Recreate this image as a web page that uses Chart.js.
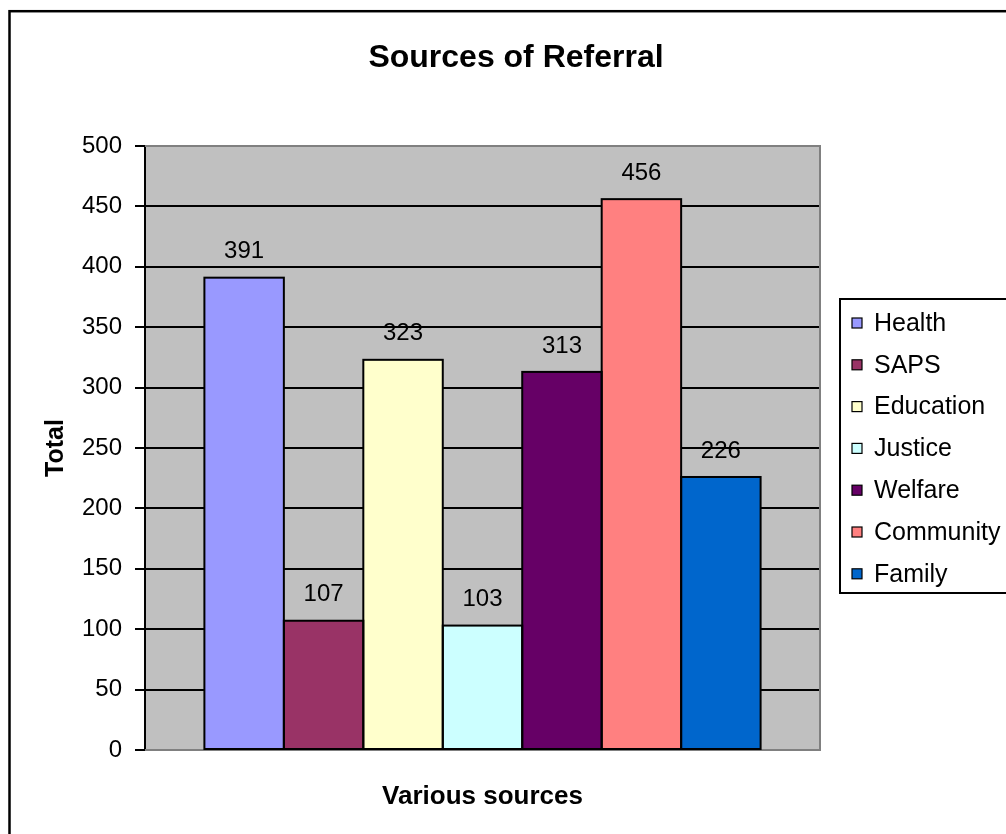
<!DOCTYPE html>
<html>
<head>
<meta charset="utf-8">
<title>Sources of Referral</title>
<script src="https://cdn.jsdelivr.net/npm/chart.js@4.4.1/dist/chart.umd.min.js"></script>
<style>
  html, body { margin: 0; padding: 0; background: #ffffff; }
  #wrap { width: 1006px; height: 834px; position: relative; }
  canvas { display: block; }
</style>
</head>
<body>
<div id="wrap"><canvas id="c" width="1006" height="834"></canvas></div>
<script>
// Referral sources and their totals
const categories = ['Various sources'];
const sourceNames = ['Health', 'SAPS', 'Education', 'Justice', 'Welfare', 'Community', 'Family'];
const totals = [391, 107, 323, 103, 313, 456, 226];
const sourceColors = ['#9999FF', '#993366', '#FFFFCC', '#CCFFFF', '#660066', '#FF8080', '#0066CC'];
const yTicks = [0, 50, 100, 150, 200, 250, 300, 350, 400, 450, 500];

const FONT = '"Liberation Sans", Arial, Helvetica, sans-serif';

const datasets = sourceNames.map((name, i) => ({
  label: name,
  data: [totals[i]],
  backgroundColor: sourceColors[i],
  borderWidth: 0,
  categoryPercentage: 0.824,
  barPercentage: 1.0
}));

// Grey plot background with a darker frame on the top, right and bottom
const plotFrame = {
  id: 'plotFrame',
  beforeDraw(chart) {
    const { ctx, chartArea: a } = chart;
    ctx.save();
    ctx.fillStyle = '#ffffff';
    ctx.fillRect(0, 0, chart.width, chart.height);
    ctx.fillStyle = '#C0C0C0';
    ctx.fillRect(a.left, a.top, a.right - a.left, a.bottom - a.top);
    ctx.restore();
  },
  beforeDatasetsDraw(chart) {
    const { ctx, chartArea: a } = chart;
    ctx.save();
    ctx.strokeStyle = '#808080';
    ctx.lineWidth = 2;
    ctx.beginPath();
    ctx.moveTo(a.left, a.top);
    ctx.lineTo(a.right, a.top);
    ctx.lineTo(a.right, a.bottom);
    ctx.lineTo(a.left, a.bottom);
    ctx.stroke();
    ctx.restore();
  }
};

// Bar outlines, value labels above each bar, chart title, legend box and outer frame
const decorations = {
  id: 'decorations',
  afterDatasetsDraw(chart) {
    const { ctx } = chart;
    ctx.save();
    // outlines centred on the bar edges so neighbouring bars share one line
    ctx.strokeStyle = '#000000';
    ctx.lineWidth = 2;
    chart.data.datasets.forEach((ds, i) => {
      chart.getDatasetMeta(i).data.forEach((bar) => {
        const half = bar.width / 2;
        ctx.strokeRect(bar.x - half, bar.y, bar.width, bar.base - bar.y);
      });
    });
    ctx.font = '24px ' + FONT;
    ctx.fillStyle = '#000000';
    ctx.textAlign = 'center';
    ctx.textBaseline = 'middle';
    chart.data.datasets.forEach((ds, i) => {
      const meta = chart.getDatasetMeta(i);
      meta.data.forEach((bar, j) => {
        ctx.fillText(String(ds.data[j]), bar.x, bar.y - 26);
      });
    });
    ctx.restore();
  },
  afterDraw(chart) {
    const { ctx } = chart;
    ctx.save();
    // title
    ctx.font = 'bold 32px ' + FONT;
    ctx.fillStyle = '#000000';
    ctx.textAlign = 'center';
    ctx.textBaseline = 'middle';
    ctx.fillText('Sources of Referral', 516, 58);

    // legend
    const lx = 840, ly = 299, lh = 294;
    ctx.fillStyle = '#ffffff';
    ctx.fillRect(lx, ly, 200, lh);
    ctx.strokeStyle = '#000000';
    ctx.lineWidth = 2;
    ctx.strokeRect(lx, ly, 200, lh);
    ctx.font = '25px ' + FONT;
    ctx.textAlign = 'left';
    chart.data.datasets.forEach((ds, i) => {
      const cy = 323 + i * 41.8;
      ctx.fillStyle = ds.backgroundColor;
      ctx.fillRect(852, cy - 5, 10, 10);
      ctx.lineWidth = 1.2;
      ctx.strokeStyle = '#000000';
      ctx.strokeRect(852, cy - 5, 10, 10);
      ctx.fillStyle = '#000000';
      ctx.fillText(ds.label, 874, cy + 1);
    });

    // outer frame
    ctx.lineWidth = 2.5;
    ctx.strokeStyle = '#000000';
    ctx.strokeRect(9.5, 11.2, 1100, 900);
    ctx.restore();
  }
};

new Chart(document.getElementById('c'), {
  type: 'bar',
  data: { labels: categories, datasets },
  plugins: [plotFrame, decorations],
  options: {
    responsive: false,
    animation: false,
    layout: { padding: { left: 0, top: 146, right: 186, bottom: 0 } },
    plugins: {
      legend: { display: false },
      title: { display: false },
      tooltip: { enabled: false }
    },
    scales: {
      x: {
        ticks: { display: false },
        grid: { display: false },
        border: { display: false },
        title: {
          display: true,
          text: 'Various sources',
          color: '#000000',
          font: { family: FONT, size: 26, weight: 'bold' },
          padding: { top: 4, bottom: 21.6 }
        },
        afterFit(scale) { scale.height = 84; }
      },
      y: {
        min: 0,
        max: 500,
        afterBuildTicks(scale) { scale.ticks = yTicks.map(v => ({ value: v })); },
        ticks: {
          color: '#000000',
          font: { family: FONT, size: 24 },
          padding: 13
        },
        grid: {
          color: (c) => (c.tick && (c.tick.value === 0 || c.tick.value === 500)) ? '#808080' : '#000000',
          lineWidth: 2,
          drawTicks: true,
          tickLength: 10,
          tickColor: '#000000',
          tickWidth: 2
        },
        border: { display: true, color: '#000000', width: 2 },
        title: {
          display: true,
          text: 'Total',
          color: '#000000',
          font: { family: FONT, size: 25, weight: 'bold' },
          padding: { top: 41, bottom: 0 }
        },
        afterFit(scale) { scale.width = 145; }
      }
    }
  }
});
</script>
</body>
</html>
